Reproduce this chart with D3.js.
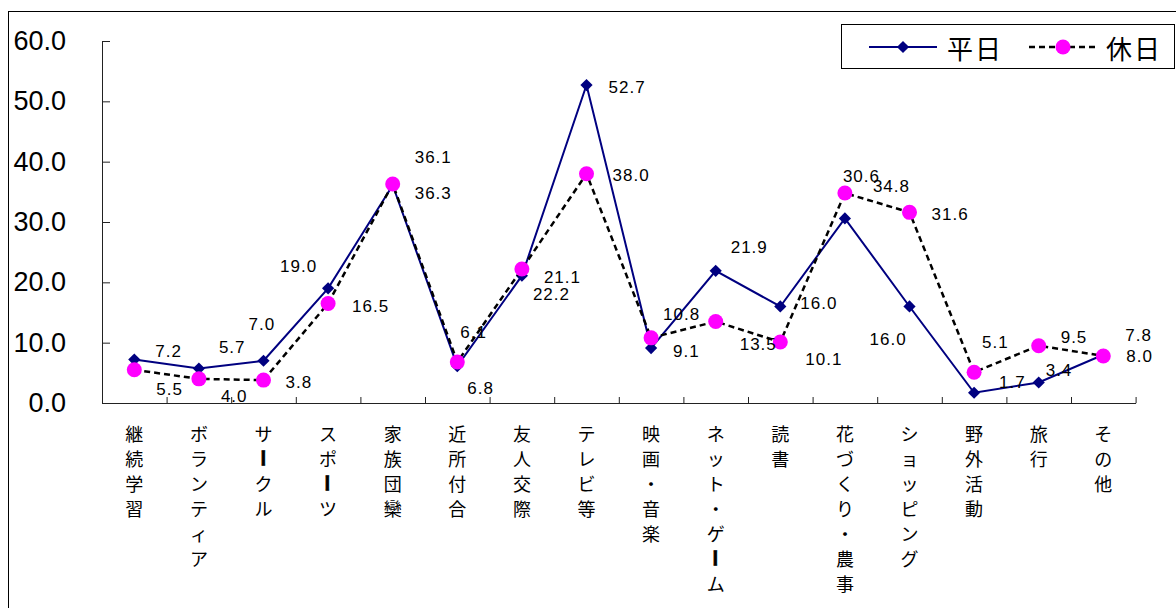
<!DOCTYPE html>
<html>
<head>
<meta charset="utf-8">
<script src="https://cdn.jsdelivr.net/npm/d3@7"></script>
<style>
  html, body { margin: 0; padding: 0; background: #fff; overflow: hidden; }
  svg { display: block; }
</style>
</head>
<body>
<svg id="chart" width="1176" height="608"></svg>
<script>
// Activity categories (x axis)
const categories = [
  "継続学習", "ボランティア", "サークル", "スポーツ", "家族団欒", "近所付合",
  "友人交際", "テレビ等", "映画・音楽", "ネット・ゲーム", "読書", "花づくり・農事",
  "ショッピング", "野外活動", "旅行", "その他"
];

// Series values
const weekdayValues = [7.2, 5.7, 7.0, 19.0, 36.1, 6.1, 21.1, 52.7, 9.1, 21.9, 16.0, 30.6, 16.0, 1.7, 3.4, 8.0];
const holidayValues = [5.5, 4.0, 3.8, 16.5, 36.3, 6.8, 22.2, 38.0, 10.8, 13.5, 10.1, 34.8, 31.6, 5.1, 9.5, 7.8];

// Series names
const seriesNames = ["平日", "休日"];

// Y axis tick values
const yTicks = [0, 10, 20, 30, 40, 50, 60];

// Offsets of each value label from its point (dx, dy), in pixels
const weekdayLabelOffsets = [
  [21, -8], [20, -21], [-15, -36], [-48, -22], [22, -28], [3, -34], [22, 2], [22, 2],
  [22, 3], [15, -23], [20, -3], [-2, -42], [-40, 33], [25, -10], [7, -12], [23, 2]
];
const holidayLabelOffsets = [
  [22, 20], [22, 18], [22, 2], [24, 3], [22, 10], [10, 27], [11, 25], [26, 2],
  [12, -23], [24, 23], [25, 17], [28, -7], [22, 2], [8, -30], [22, -8], [22, -20]
];

const svg = d3.select("#chart");

const plot = { left: 102, right: 1135.6, top: 41, bottom: 403 };

const x = d3.scaleBand().domain(categories).range([plot.left, plot.right]).padding(0);
const xEdges = d3.scaleLinear().domain([0, categories.length]).range([plot.left, plot.right]);
const y = d3.scaleLinear().domain([0, 60]).range([plot.bottom, plot.top]);
const cx = c => x(c) + x.bandwidth() / 2;

// Outer frame
svg.append("rect")
  .attr("x", 8.5).attr("y", 11.5)
  .attr("width", 1200).attr("height", 700)
  .attr("fill", "none").attr("stroke", "#000").attr("stroke-width", 1);

// Y axis
const yAxis = svg.append("g")
  .attr("transform", `translate(${plot.left},0)`)
  .call(d3.axisLeft(y).tickValues(yTicks).tickSizeInner(-8).tickSizeOuter(0)
    .tickPadding(36).tickFormat(d3.format(".1f")));
yAxis.select(".domain").attr("stroke", "#222");
yAxis.selectAll(".tick line").attr("stroke", "#222");
yAxis.selectAll(".tick text")
  .attr("font-family", "'Liberation Sans', Arial, sans-serif")
  .attr("font-size", 27).attr("fill", "#000");

// X axis with ticks at category boundaries
const xAxis = svg.append("g")
  .attr("transform", `translate(0,${plot.bottom})`)
  .call(d3.axisBottom(xEdges).tickValues(d3.range(1, categories.length + 1))
    .tickSizeInner(-6).tickSizeOuter(0).tickFormat(""));
xAxis.select(".domain").attr("stroke", "#222");
xAxis.selectAll(".tick line").attr("stroke", "#222");

// Vertical category labels, one character per row
const catFont = "'Noto Sans CJK JP', sans-serif";
categories.forEach(c => {
  const chars = Array.from(c);
  const g = svg.append("g").attr("transform", `translate(${cx(c)},0)`);
  chars.forEach((ch, k) => {
    const yy = 433 + k * 25;
    const t = g.append("text")
      .attr("x", 0).attr("y", yy)
      .attr("text-anchor", "middle")
      .attr("dominant-baseline", "central")
      .attr("font-family", catFont)
      .attr("font-size", 18)
      .attr("fill", "#000")
      .text(ch);
    // long vowel mark stands upright as a bar in vertical text
    if (ch === "ー") {
      t.attr("transform", `rotate(90,0,${yy})`)
        .attr("font-weight", "bold")
        .attr("stroke", "#000").attr("stroke-width", 0.8);
    }
  });
});

// Lines
const line = d3.line().x((d, i) => cx(categories[i])).y(d => y(d));

const diamond = d3.symbol().type(d3.symbolDiamond2).size(95);

function drawWeekday() {
  svg.append("path").datum(weekdayValues)
    .attr("d", line).attr("fill", "none")
    .attr("stroke", "#000080").attr("stroke-width", 2);
  svg.selectAll(".wd").data(weekdayValues).enter().append("path")
    .attr("class", "wd")
    .attr("d", diamond)
    .attr("transform", (d, i) => `translate(${cx(categories[i])},${y(d)})`)
    .attr("fill", "#000080");
}
function drawHoliday() {
  svg.append("path").datum(holidayValues)
    .attr("d", line).attr("fill", "none")
    .attr("stroke", "#000").attr("stroke-width", 2.5)
    .attr("stroke-dasharray", "6,4");
  svg.selectAll(".hd").data(holidayValues).enter().append("circle")
    .attr("class", "hd")
    .attr("cx", (d, i) => cx(categories[i]))
    .attr("cy", d => y(d))
    .attr("r", 7.5)
    .attr("fill", "#ff00ff");
}
drawWeekday();
drawHoliday();

// Value labels
const labelFont = "'Liberation Sans', Arial, sans-serif";
function drawLabels(values, offsets) {
  svg.append("g").selectAll("text").data(values).enter().append("text")
    .attr("x", (d, i) => cx(categories[i]) + offsets[i][0])
    .attr("y", (d, i) => y(d) + offsets[i][1])
    .attr("dominant-baseline", "central")
    .attr("font-family", labelFont)
    .attr("font-size", 17)
    .attr("letter-spacing", 1)
    .attr("fill", "#000")
    .text(d => d.toFixed(1));
}
drawLabels(weekdayValues, weekdayLabelOffsets);
drawLabels(holidayValues, holidayLabelOffsets);

// Legend
const legend = svg.append("g");
legend.append("rect")
  .attr("x", 841.5).attr("y", 24.5).attr("width", 333).attr("height", 44)
  .attr("fill", "#fff").attr("stroke", "#000").attr("stroke-width", 1);
const ly = 47;
legend.append("line").attr("x1", 869).attr("x2", 937).attr("y1", ly).attr("y2", ly)
  .attr("stroke", "#000080").attr("stroke-width", 2);
legend.append("path").attr("d", diamond)
  .attr("transform", `translate(903,${ly})`).attr("fill", "#000080");
legend.append("text").attr("x", 947).attr("y", ly)
  .attr("dominant-baseline", "central")
  .attr("font-family", catFont).attr("font-size", 26).attr("letter-spacing", 2)
  .text(seriesNames[0]);
legend.append("line").attr("x1", 1029).attr("x2", 1097).attr("y1", ly).attr("y2", ly)
  .attr("stroke", "#000").attr("stroke-width", 2.5).attr("stroke-dasharray", "6,4");
legend.append("circle").attr("cx", 1063).attr("cy", ly).attr("r", 7.5).attr("fill", "#ff00ff");
legend.append("text").attr("x", 1106).attr("y", ly)
  .attr("dominant-baseline", "central")
  .attr("font-family", catFont).attr("font-size", 26).attr("letter-spacing", 2)
  .text(seriesNames[1]);
</script>
</body>
</html>
